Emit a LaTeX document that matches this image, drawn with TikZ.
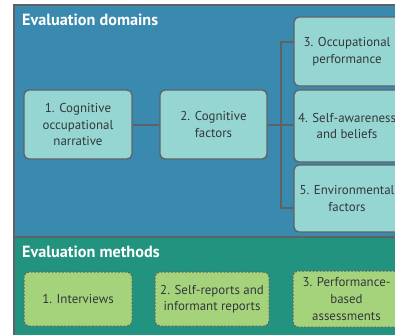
\documentclass[tikz,border=0pt]{standalone}
\usepackage{fontspec}
\setmainfont{PT Sans}
\begin{document}
\definecolor{domainblue}{HTML}{3A89AF}
\definecolor{methodgreen}{HTML}{22937F}
\definecolor{domainbox}{HTML}{96D6D2}
\definecolor{methodbox}{HTML}{A5D37C}
\definecolor{rim}{HTML}{5E6266}
\definecolor{ink}{HTML}{33373A}
\tikzset{
  panel/.style={draw=rim, line width=1.6pt},
  paneltitle/.style={anchor=west, text=white, font=\fontsize{16.2}{18}\selectfont\bfseries, inner sep=0pt},
  domainbox/.style={draw=rim, line width=1.3pt, fill=domainbox, rounded corners=5pt,
    text=ink, align=center, font=\fontsize{12.9}{16.6}\selectfont, inner sep=0pt},
  methodbox/.style={draw=rim, line width=1pt, dash pattern=on 2pt off 1.5pt, fill=methodbox, rounded corners=5pt,
    text=ink, align=center, font=\fontsize{12.9}{16.6}\selectfont, inner sep=0pt},
  link/.style={draw=rim, line width=1.3pt},
}
\begin{tikzpicture}[x=1pt,y=-1pt]
\useasboundingbox (0,0) rectangle (395,334);
\clip (0,0) rectangle (395,334);
\fill[white] (0,0) rectangle (395,334);
% panels
\fill[domainblue] (14,5) rectangle (430,237);
\fill[methodgreen] (14,237) rectangle (430,345);
\draw[panel] (14,345) -- (14,5) -- (430,5);
\draw[panel] (14,237) -- (430,237);
\node[paneltitle] (tdom) at (22,20) {Evaluation domains};
\node[paneltitle] (tmet) at (22,252) {Evaluation methods};
% evaluation domains
\node[domainbox, minimum width=108pt, minimum height=69pt] (d1) at (78,124.5) {1. Cognitive\\occupational\\narrative};
\node[domainbox, minimum width=107pt, minimum height=69pt] (d2) at (213.5,124.5) {2. Cognitive\\factors};
\node[domainbox, minimum width=106pt, minimum height=69pt] (d3) at (347,51.5) {3. Occupational\\performance};
\node[domainbox, minimum width=106pt, minimum height=72pt] (d4) at (347,126) {4. Self-awareness\\and beliefs};
\node[domainbox, minimum width=106pt, minimum height=67pt] (d5) at (347,198.5) {5. Environmental\\factors};
% connectors
\coordinate (jtop) at (281,42);
\coordinate (jmid) at (281,125);
\coordinate (jbot) at (281,208);
\draw[link] (d1.east |- jmid) -- (d2.west |- jmid);
\draw[link] (d2.east |- jmid) -- (d4.west |- jmid);
\draw[link] (d3.west |- jtop) -- (jtop) -- (jbot) -- (d5.west |- jbot);
% evaluation methods
\node[methodbox, minimum width=108pt, minimum height=54pt] (m1) at (78,299) {1. Interviews};
\node[methodbox, minimum width=114pt, minimum height=54pt] (m2) at (212,299) {2. Self-reports and\\informant reports};
\node[methodbox, minimum width=107pt, minimum height=56pt] (m3) at (346.5,299) {3. Performance-\\based\\assessments};
\end{tikzpicture}
\end{document}
